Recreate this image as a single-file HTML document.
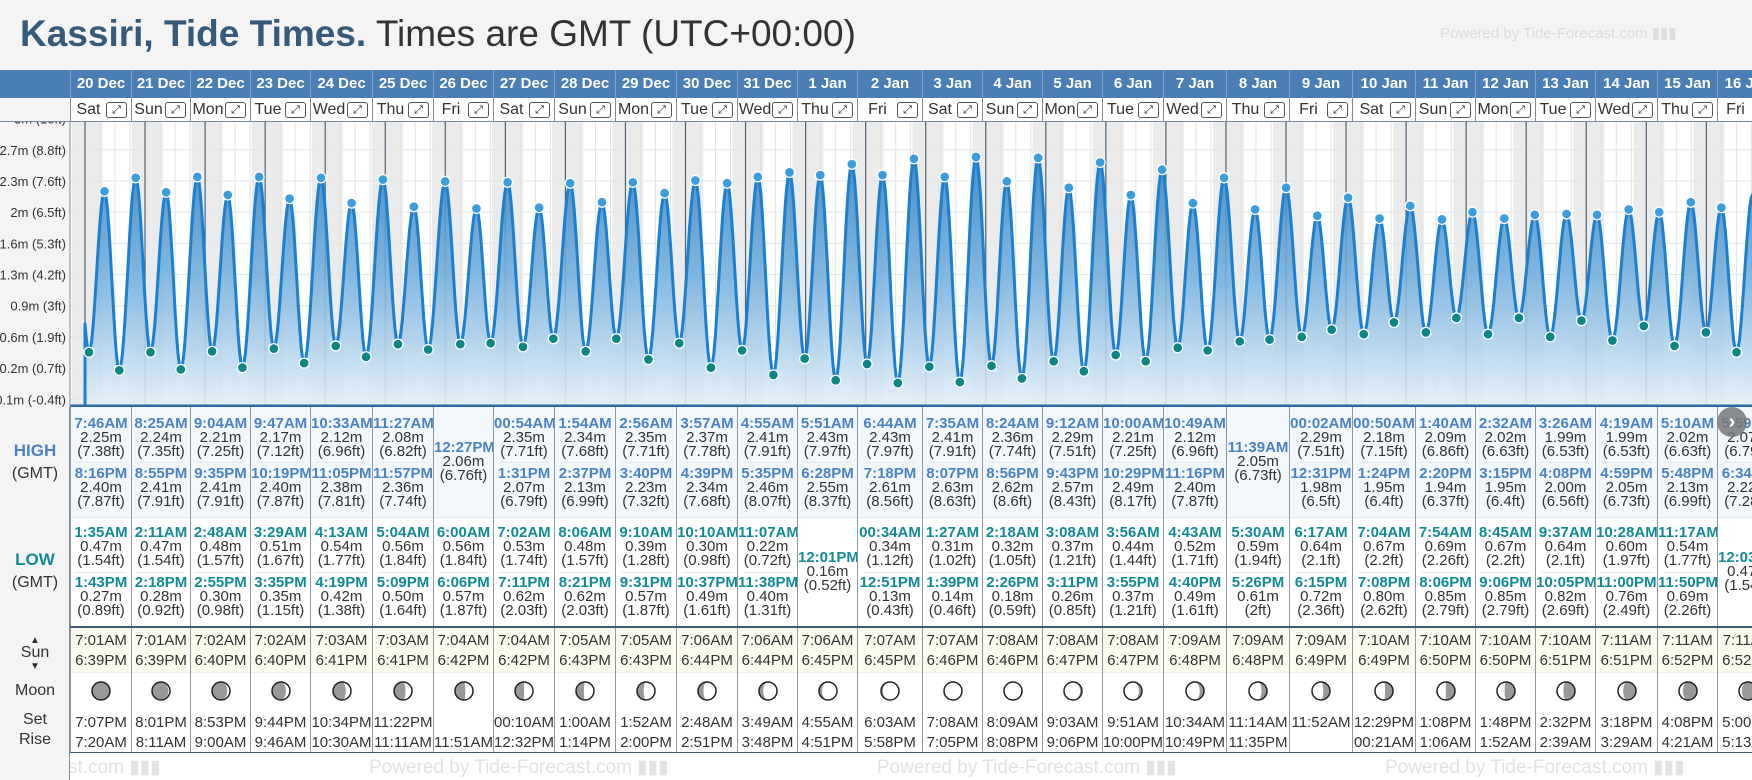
<!DOCTYPE html>
<html><head><meta charset="utf-8">
<style>
*{box-sizing:border-box;margin:0;padding:0}
body{width:1752px;height:780px;overflow:hidden;background:#f4f4f4;font-family:"Liberation Sans",sans-serif;position:relative;color:#333}
.abs{position:absolute}
#title{left:20px;top:13px;font-size:37px;white-space:nowrap}
#title b{color:#365a7b}
#powered{left:1440px;top:24px;font-size:15px;color:#dcdcdc;white-space:nowrap}
.hdr{position:absolute;top:70px;height:28px;background:#4a7eb4;color:#fff;font-weight:bold;font-size:15px;text-align:center;line-height:28px;border-left:1px solid #7fa3c8}
.dayc{position:absolute;top:98px;height:24px;background:#fff;border-left:1px solid #7d8d9c;border-bottom:1px solid #7d8d9c;font-size:16px;line-height:24px}
.ico{position:absolute;top:4px;width:21px;height:16px;border:1px solid #555;border-radius:3px;font-size:11px;line-height:14px;text-align:center;color:#222}
.cell{position:absolute;text-align:center;font-size:15px;line-height:14px;border-left:1px solid #8c98a4;overflow:hidden;white-space:nowrap}
.tm{font-weight:bold}
.hi .tm{color:#4a83c4}
.lo .tm{color:#128a96}
.lbl{position:absolute;left:0;width:70px;text-align:center;font-size:16px}
#table{position:absolute;left:0;top:0;width:1752px;height:780px;overflow:hidden}
</style></head><body>
<div id="title" class="abs"><b>Kassiri, Tide Times.</b> Times are GMT (UTC+00:00)</div>
<div id="powered" class="abs">Powered by Tide-Forecast.com ▮▮▮</div>
<div class="abs" style="left:0;top:70px;width:70px;height:28px;background:#4a7eb4"></div>
<svg id="chart" class="abs" style="left:0;top:122px" width="1752" height="286"></svg>
<div id="table"></div>
<script>
const days=["20 Dec","21 Dec","22 Dec","23 Dec","24 Dec","25 Dec","26 Dec","27 Dec","28 Dec","29 Dec","30 Dec","31 Dec","1 Jan","2 Jan","3 Jan","4 Jan","5 Jan","6 Jan","7 Jan","8 Jan","9 Jan","10 Jan","11 Jan","12 Jan","13 Jan","14 Jan","15 Jan","16 Jan"];
const weekdays=["Sat","Sun","Mon","Tue","Wed","Thu","Fri","Sat","Sun","Mon","Tue","Wed","Thu","Fri","Sat","Sun","Mon","Tue","Wed","Thu","Fri","Sat","Sun","Mon","Tue","Wed","Thu","Fri"];
const highTimes=[["7:46AM","8:16PM"],["8:25AM","8:55PM"],["9:04AM","9:35PM"],["9:47AM","10:19PM"],["10:33AM","11:05PM"],["11:27AM","11:57PM"],["12:27PM"],["00:54AM","1:31PM"],["1:54AM","2:37PM"],["2:56AM","3:40PM"],["3:57AM","4:39PM"],["4:55AM","5:35PM"],["5:51AM","6:28PM"],["6:44AM","7:18PM"],["7:35AM","8:07PM"],["8:24AM","8:56PM"],["9:12AM","9:43PM"],["10:00AM","10:29PM"],["10:49AM","11:16PM"],["11:39AM"],["00:02AM","12:31PM"],["00:50AM","1:24PM"],["1:40AM","2:20PM"],["2:32AM","3:15PM"],["3:26AM","4:08PM"],["4:19AM","4:59PM"],["5:10AM","5:48PM"],["5:59AM","6:34PM"]];
const highM=[[2.25,2.40],[2.24,2.41],[2.21,2.41],[2.17,2.40],[2.12,2.38],[2.08,2.36],[2.06],[2.35,2.07],[2.34,2.13],[2.35,2.23],[2.37,2.34],[2.41,2.46],[2.43,2.55],[2.43,2.61],[2.41,2.63],[2.36,2.62],[2.29,2.57],[2.21,2.49],[2.12,2.40],[2.05],[2.29,1.98],[2.18,1.95],[2.09,1.94],[2.02,1.95],[1.99,2.00],[1.99,2.05],[2.02,2.13],[2.07,2.22]];
const highFt=[["7.38","7.87"],["7.35","7.91"],["7.25","7.91"],["7.12","7.87"],["6.96","7.81"],["6.82","7.74"],["6.76"],["7.71","6.79"],["7.68","6.99"],["7.71","7.32"],["7.78","7.68"],["7.91","8.07"],["7.97","8.37"],["7.97","8.56"],["7.91","8.63"],["7.74","8.6"],["7.51","8.43"],["7.25","8.17"],["6.96","7.87"],["6.73"],["7.51","6.5"],["7.15","6.4"],["6.86","6.37"],["6.63","6.4"],["6.53","6.56"],["6.53","6.73"],["6.63","6.99"],["6.79","7.28"]];
const lowTimes=[["1:35AM","1:43PM"],["2:11AM","2:18PM"],["2:48AM","2:55PM"],["3:29AM","3:35PM"],["4:13AM","4:19PM"],["5:04AM","5:09PM"],["6:00AM","6:06PM"],["7:02AM","7:11PM"],["8:06AM","8:21PM"],["9:10AM","9:31PM"],["10:10AM","10:37PM"],["11:07AM","11:38PM"],["12:01PM"],["00:34AM","12:51PM"],["1:27AM","1:39PM"],["2:18AM","2:26PM"],["3:08AM","3:11PM"],["3:56AM","3:55PM"],["4:43AM","4:40PM"],["5:30AM","5:26PM"],["6:17AM","6:15PM"],["7:04AM","7:08PM"],["7:54AM","8:06PM"],["8:45AM","9:06PM"],["9:37AM","10:05PM"],["10:28AM","11:00PM"],["11:17AM","11:50PM"],["12:03PM"]];
const lowM=[[0.47,0.27],[0.47,0.28],[0.48,0.30],[0.51,0.35],[0.54,0.42],[0.56,0.50],[0.56,0.57],[0.53,0.62],[0.48,0.62],[0.39,0.57],[0.30,0.49],[0.22,0.40],[0.16],[0.34,0.13],[0.31,0.14],[0.32,0.18],[0.37,0.26],[0.44,0.37],[0.52,0.49],[0.59,0.61],[0.64,0.72],[0.67,0.80],[0.69,0.85],[0.67,0.85],[0.64,0.82],[0.60,0.76],[0.54,0.69],[0.47]];
const lowFt=[["1.54","0.89"],["1.54","0.92"],["1.57","0.98"],["1.67","1.15"],["1.77","1.38"],["1.84","1.64"],["1.84","1.87"],["1.74","2.03"],["1.57","2.03"],["1.28","1.87"],["0.98","1.61"],["0.72","1.31"],["0.52"],["1.12","0.43"],["1.02","0.46"],["1.05","0.59"],["1.21","0.85"],["1.44","1.21"],["1.71","1.61"],["1.94","2"],["2.1","2.36"],["2.2","2.62"],["2.26","2.79"],["2.2","2.79"],["2.1","2.69"],["1.97","2.49"],["1.77","2.26"],["1.54"]];
const sunRise=["7:01AM","7:01AM","7:02AM","7:02AM","7:03AM","7:03AM","7:04AM","7:04AM","7:05AM","7:05AM","7:06AM","7:06AM","7:06AM","7:07AM","7:07AM","7:08AM","7:08AM","7:08AM","7:09AM","7:09AM","7:09AM","7:10AM","7:10AM","7:10AM","7:10AM","7:11AM","7:11AM","7:11AM"];
const sunSet=["6:39PM","6:39PM","6:40PM","6:40PM","6:41PM","6:41PM","6:42PM","6:42PM","6:43PM","6:43PM","6:44PM","6:44PM","6:45PM","6:45PM","6:46PM","6:46PM","6:47PM","6:47PM","6:48PM","6:48PM","6:49PM","6:49PM","6:50PM","6:50PM","6:51PM","6:51PM","6:52PM","6:52PM"];
const moonSet=["7:07PM","8:01PM","8:53PM","9:44PM","10:34PM","11:22PM","","00:10AM","1:00AM","1:52AM","2:48AM","3:49AM","4:55AM","6:03AM","7:08AM","8:09AM","9:03AM","9:51AM","10:34AM","11:14AM","11:52AM","12:29PM","1:08PM","1:48PM","2:32PM","3:18PM","4:08PM","5:00PM"];
const moonRise=["7:20AM","8:11AM","9:00AM","9:46AM","10:30AM","11:11AM","11:51AM","12:32PM","1:14PM","2:00PM","2:51PM","3:48PM","4:51PM","5:58PM","7:05PM","8:08PM","9:06PM","10:00PM","10:49PM","11:35PM","","00:21AM","1:06AM","1:52AM","2:39AM","3:29AM","4:21AM","5:13AM"];
const moonAge=[0.3,1.3,2.3,3.3,4.3,5.3,6.3,7.3,8.3,9.3,10.3,11.3,12.3,13.3,14.3,15.3,16.3,17.3,18.3,19.3,20.3,21.3,22.3,23.3,24.3,25.3,26.3,27.3];
const prevExtreme=[-1,"7:37PM",2.39];
const nextExtreme=[28,"00:40AM",0.62];
const tickM=[-0.05,0.295,0.64,0.985,1.33,1.675,2.02,2.365,2.71,3.055];
const tickLabels=["-0.1m (-0.4ft)","0.2m (0.7ft)","0.6m (1.9ft)","0.9m (3ft)","1.3m (4.2ft)","1.6m (5.3ft)","2m (6.5ft)","2.3m (7.6ft)","2.7m (8.8ft)","3m (10ft)"];

const colEdges=[70,131,190,250,310,372,433,493,554,615,676,737,797,857,922,982,1042,1102,1163,1226,1289,1352,1415,1475,1535,1595,1657,1717,1778];
const NS='http://www.w3.org/2000/svg';
const CT=122;
function hrs(s){const m=s.match(/(\d+):(\d+)(AM|PM)/);let h=+m[1]%12;if(m[3]==='PM')h+=12;return h+ (+m[2])/60;}
function X(t){return 85+t*60.05;}
function Y(h){return 394.75-h*90.4-CT;}
const svg=document.getElementById('chart');
function sv(tag,attrs){const e=document.createElementNS(NS,tag);for(const k in attrs)e.setAttribute(k,attrs[k]);svg.appendChild(e);return e;}
let e=sv('rect',{x:0,y:0,width:70,height:286,fill:'#f4f4f4'});


e=sv('rect',{x:70,y:0,width:1682,height:286,fill:'#fff'});


for(let i=-1;i<days.length+1;i++){
  const ss=sunSet[Math.max(0,Math.min(i,days.length-1))],sr=sunRise[Math.min(i+1,days.length-1)];
  const x1=Math.max(70,X(i+hrs(ss)/24)),x2=X(i+1+hrs(sr)/24);
  if(x2<=70)continue;
  e=sv('rect',{x:x1,y:0,width:x2-x1,height:284,fill:'#ebebeb'});
  
  
}
for(let k=-2;k<days.length*4+4;k++){const x=X(k/4);if(x<70||x>1752||k%4===0)continue;
  e=sv('line',{x1:x,x2:x,y1:0,y2:284,stroke:'#e2e2e2','stroke-width':1});
  
  }
tickM.forEach((m,i)=>{const y=Y(m);
  e=sv('line',{x1:70,x2:1752,y1:y,y2:y,stroke:'#e6e6e6','stroke-width':1});
  
  
  e=sv('text',{x:66,y:y+5,'text-anchor':'end','font-size':13,fill:'#333','font-family':'Liberation Sans, sans-serif'});
  e.textContent=tickLabels[i];
  
  });
for(let i=0;i<=days.length;i++){const x=X(i);if(x>1752)continue;
  e=sv('line',{x1:x,x2:x,y1:0,y2:284,stroke:'#4f6477','stroke-width':1.2});
  
  }
const ev=[];
ev.push({t:prevExtreme[0]+hrs(prevExtreme[1])/24,h:prevExtreme[2],k:'h'});
days.forEach((d,i)=>{highTimes[i].forEach((s,j)=>ev.push({t:i+hrs(s)/24,h:highM[i][j],k:'h'}));lowTimes[i].forEach((s,j)=>ev.push({t:i+hrs(s)/24,h:lowM[i][j],k:'l'}));});
ev.push({t:nextExtreme[0]+hrs(nextExtreme[1])/24,h:nextExtreme[2],k:'l'});
ev.sort((a,b)=>a.t-b.t);
const pts=[];
for(let i=0;i<ev.length-1;i++){const a=ev[i],b=ev[i+1];const n=Math.max(4,Math.ceil((X(b.t)-X(a.t))/1.5));
  for(let k=0;k<n;k++){const f=k/n;const t=a.t+(b.t-a.t)*f;if(t<0)continue;const h=a.h+(b.h-a.h)*(1-Math.cos(Math.PI*f))/2;pts.push([X(t),Y(h)]);}}
(function(){for(let i=0;i<ev.length-1;i++){const a=ev[i],b=ev[i+1];if(a.t<=0&&b.t>0){const f=(0-a.t)/(b.t-a.t);pts.unshift([X(0),Y(a.h+(b.h-a.h)*(1-Math.cos(Math.PI*f))/2)]);}}})();
const bottom=284;
const defs=sv('defs',{});
defs.innerHTML='<linearGradient id="fg" x1="0" y1="20" x2="0" y2="284" gradientUnits="userSpaceOnUse"><stop offset="0" stop-color="#2a7cc0"/><stop offset="0.5" stop-color="#72aedb"/><stop offset="1" stop-color="#e4eff9"/></linearGradient>';
let d='M'+pts[0][0]+','+bottom+pts.map(p=>'L'+p[0].toFixed(1)+','+p[1].toFixed(1)).join('')+'L'+pts[pts.length-1][0]+','+bottom+'Z';
e=sv('path',{d:d,fill:'url(#fg)','fill-opacity':0.88});


let dl='M'+pts[0][0]+','+bottom+pts.map(p=>'L'+p[0].toFixed(1)+','+p[1].toFixed(1)).join('');
e=sv('path',{d:dl,fill:'none',stroke:'#1b80d0','stroke-width':3,'stroke-linejoin':'round'});


ev.forEach(v=>{if(v.t<0||X(v.t)>1752)return;
  e=sv('circle',{cx:X(v.t),cy:Y(v.h),r:5,fill:v.k==='h'?'#3a9de0':'#0c8585',stroke:'#fff','stroke-width':1.3});
  
  });
e=sv('line',{x1:70,x2:1752,y1:284,y2:284,stroke:'#2a6aa6','stroke-width':3});


e=sv('line',{x1:70,x2:70,y1:0,y2:286,stroke:'#7d8d9c','stroke-width':1});



const tb=document.getElementById('table');
function div(cls,style,html){const x=document.createElement('div');x.className=cls;x.style.cssText=style;if(html!==undefined)x.innerHTML=html;tb.appendChild(x);return x;}
let el;
el=div('abs','left:0;top:98px;width:70px;height:24px;background:#f4f4f4;border-bottom:1px solid #7d8d9c');


el=div('abs','left:0;top:407px;width:1752px;height:110px;background:#f2f7fc');


el=div('abs','left:0;top:517px;width:1752px;height:110px;background:#fff;border-top:1px solid #e4e8ec');


el=div('abs','left:0;top:626px;width:1752px;height:2px;background:#3e5b76');


el=div('abs','left:0;top:628px;width:1752px;height:44px;background:#fbfbee');


el=div('abs','left:0;top:672px;width:1752px;height:80px;background:#fff;border-top:1px solid #eee');


el=div('abs','left:0;top:752px;width:1752px;height:28px;background:#fff;border-top:1px solid #3e5b76');


el=div('abs','left:0;top:407px;width:70px;height:373px;background:#f4f4f4;border-right:1px solid #7d8d9c');


el=div('lbl','top:440px;line-height:22px','<b style="color:#4a83c4;font-size:17px">HIGH</b><br>(GMT)');


el=div('lbl','top:549px;line-height:22px','<b style="color:#128a96;font-size:17px">LOW</b><br>(GMT)');


el=div('lbl','top:633px;line-height:12px;font-size:16px','<span style="font-size:10px">▲</span><br>Sun<br><span style="font-size:10px">▼</span>');


el=div('lbl','top:681px;line-height:20px','Moon');


el=div('lbl','top:710px;line-height:20px','Set<br>Rise');


[-139,369,877,1385].forEach(x=>{
  el=div('abs','left:'+x+'px;top:756px;font-size:19px;color:#e2e2e2;white-space:nowrap','Powered by Tide-Forecast.com ▮▮▮');
  
  });
el=div('abs','left:0;top:752px;width:70px;height:28px;background:#f4f4f4;border-right:1px solid #7d8d9c');



function moonSvg(age){const f=age/29.53,r=9,cx=11,cy=11;const q=f%0.5;const rx=Math.max(0.01,Math.abs(1-4*q))*r;let p;
  if(f<0.5){p='M'+cx+','+(cy-r)+'A'+r+','+r+' 0 0 1 '+cx+','+(cy+r)+'A'+rx+','+r+' 0 0 '+(f<0.25?0:1)+' '+cx+','+(cy-r)+'Z';}
  else{p='M'+cx+','+(cy-r)+'A'+r+','+r+' 0 0 0 '+cx+','+(cy+r)+'A'+rx+','+r+' 0 0 '+(f>0.75?1:0)+' '+cx+','+(cy-r)+'Z';}
  return '<svg width="22" height="22"><circle cx="11" cy="11" r="9" fill="#999"/><path d="'+p+'" fill="#fff"/><circle cx="11" cy="11" r="9" fill="none" stroke="#222" stroke-width="1.5"/></svg>';}
function block(t,m,ft){return '<div class="tm">'+t+'</div><div>'+m.toFixed(2)+'m</div><div>('+ft+'ft)</div>';}
days.forEach((dd,i)=>{
  const L=colEdges[i],W=colEdges[i+1]-L;
  el=div('hdr','left:'+L+'px;width:'+W+'px',dd);
  
  
  el=div('dayc','left:'+L+'px;width:'+W+'px','<span style="position:absolute;left:0;width:'+(W-26)+'px;text-align:center">'+weekdays[i]+'</span>');
  
  
  const ic=document.createElement('div');ic.className='ico';ic.style.left=(W-26)+'px';ic.textContent='⤢';el.appendChild(ic);
  
  
  const hc=div('cell hi','left:'+L+'px;top:407px;width:'+W+'px;height:110px');
  
  
  if(highTimes[i].length===2){
    hc.innerHTML='<div style="position:absolute;top:10px;width:100%">'+block(highTimes[i][0],highM[i][0],highFt[i][0])+'</div><div style="position:absolute;top:55px;left:5px;right:5px;border-top:1px solid #e3e8ee"></div><div style="position:absolute;top:60px;width:100%">'+block(highTimes[i][1],highM[i][1],highFt[i][1])+'</div>';
  } else hc.innerHTML='<div style="position:absolute;top:34px;width:100%">'+block(highTimes[i][0],highM[i][0],highFt[i][0])+'</div>';
  const lc=div('cell lo','left:'+L+'px;top:517px;width:'+W+'px;height:109px');
  
  
  if(lowTimes[i].length===2){
    lc.innerHTML='<div style="position:absolute;top:9px;width:100%">'+block(lowTimes[i][0],lowM[i][0],lowFt[i][0])+'</div><div style="position:absolute;top:55px;left:5px;right:5px;border-top:1px solid #e8e8e8"></div><div style="position:absolute;top:59px;width:100%">'+block(lowTimes[i][1],lowM[i][1],lowFt[i][1])+'</div>';
  } else lc.innerHTML='<div style="position:absolute;top:34px;width:100%">'+block(lowTimes[i][0],lowM[i][0],lowFt[i][0])+'</div>';
  el=div('cell','left:'+L+'px;top:628px;width:'+W+'px;height:44px;line-height:20px;padding-top:3px',sunRise[i]+'<br>'+sunSet[i]);
  
  
  el=div('cell','left:'+L+'px;top:672px;width:'+W+'px;height:80px;line-height:20px;padding-top:8px',moonSvg(moonAge[i])+'<div style="margin-top:5px">'+(moonSet[i]||'&nbsp;')+'</div><div>'+(moonRise[i]||'&nbsp;')+'</div>');
  
  
});
el=div('abs','left:1717px;top:407px;width:30px;height:30px;border-radius:50%;background:rgba(120,120,120,0.85);color:#fff;font-size:20px;line-height:30px;text-align:center;font-weight:bold','›');


</script>
</body></html>
